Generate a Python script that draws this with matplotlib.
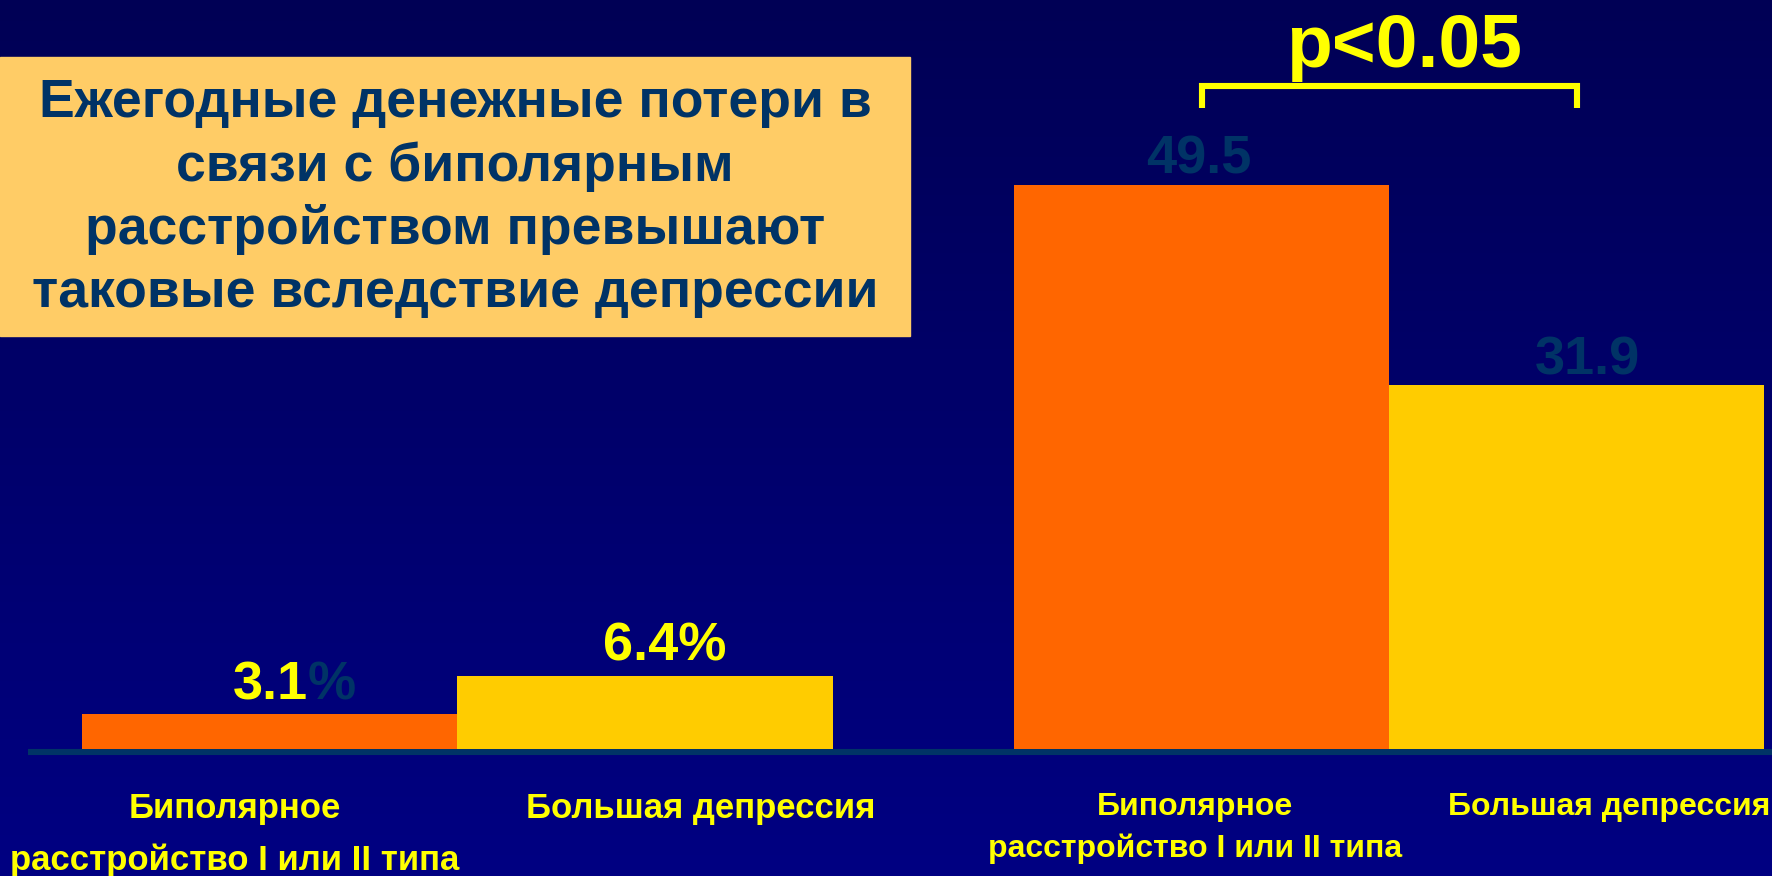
import numpy as np
import matplotlib.pyplot as plt
from matplotlib.colors import LinearSegmentedColormap
from matplotlib.patches import Rectangle
from matplotlib.transforms import IdentityTransform

# данные
categories = ['Биполярное\nрасстройство I или II типа', 'Большая депрессия']
pct_loss = [3.1, 6.4]        # % потерь
usd_loss = [49.5, 31.9]      # денежные потери
bar_colors = ['#FF6600', '#FFCC00']
title_lines = ['Ежегодные денежные потери в',
               'связи с биполярным',
               'расстройством превышают',
               'таковые вследствие депрессии']
p_text = 'p<0.05'

YEL = '#FFFF00'
DARK = '#003366'

W, H = 1772, 876
fig = plt.figure(figsize=(W / 100, H / 100), dpi=100)

# фон с градиентом
bg = fig.add_axes([0, 0, 1, 1], zorder=0)
grad = np.linspace(0, 1, 256).reshape(-1, 1)
cmap = LinearSegmentedColormap.from_list('bg', ['#000055', '#000082'])
bg.imshow(grad, aspect='auto', cmap=cmap, extent=[0, 1, 0, 1], origin='upper')
bg.axis('off')

# масштаб: пиксели картинки -> данные
base_px = 749      # линия оси
ppu = 11.4         # пикселей на единицу
bar_px = 375       # ширина столбца
x0_px = 270        # центр первого столбца

def yv(p):
    return (base_px - p) / ppu

def xv(p):
    return (p - x0_px) / bar_px

ax = fig.add_axes([0, 0, 1, 1], zorder=1)
ax.patch.set_alpha(0)
ax.axis('off')
ax.set_xlim(xv(0), xv(W))
ax.set_ylim(yv(H), yv(0))

x_left = np.array([0.0, 1.0])
x_right = x_left + 2.485

ax.bar(x_left, pct_loss, width=1.0, color=bar_colors, zorder=2)
ax.bar(x_right, usd_loss, width=1.0, color=bar_colors, zorder=2)
ax.hlines(yv(752), xv(28), xv(W), color=DARK, lw=4.4, zorder=1)

num_font = dict(family='Liberation Sans', weight='bold', fontsize=39)

# подписи значений
lbl_left = [f'{v}%' for v in pct_loss]
lbl_right = [f'{v}' for v in usd_loss]
dx_left = [24, 20]
dx_right = [-3, 11]
gap_left = [14, 16]
gap_right = [11, 11]

t31 = ax.annotate(lbl_left[0], (x_left[0] + dx_left[0] / bar_px, pct_loss[0]),
                  xytext=(0, gap_left[0] * 0.72), textcoords='offset points',
                  ha='center', va='baseline', color=DARK, **num_font)
ax.annotate(lbl_left[1], (x_left[1] + dx_left[1] / bar_px, pct_loss[1]),
            xytext=(0, gap_left[1] * 0.72), textcoords='offset points',
            ha='center', va='baseline', color=YEL, **num_font)
for i in range(2):
    ax.annotate(lbl_right[i], (x_right[i] + dx_right[i] / bar_px, usd_loss[i]),
                xytext=(0, gap_right[i] * 0.72), textcoords='offset points',
                ha='center', va='baseline', color=DARK, **num_font)

# подписи категорий
left_font = dict(family='Liberation Sans', weight='bold', fontsize=25, color=YEL)
right_font = dict(family='Liberation Sans', weight='bold', fontsize=23, color=YEL)
first, second = categories[0].split('\n')
ax.text(xv(235), yv(818), first, ha='center', va='baseline', **left_font)
ax.text(xv(235), yv(870), second, ha='center', va='baseline', **left_font)
ax.text(xv(701), yv(818), categories[1], ha='center', va='baseline', **left_font)
ax.text(xv(1195), yv(815), first, ha='center', va='baseline', **right_font)
ax.text(xv(1195), yv(857), second, ha='center', va='baseline', **right_font)
ax.text(xv(1609), yv(815), categories[1], ha='center', va='baseline', **right_font)

# скобка и p
ax.plot([x_right[0], x_right[0], x_right[1], x_right[1]],
        [yv(108), yv(86), yv(86), yv(108)], color=YEL, lw=4.4,
        solid_joinstyle='miter', solid_capstyle='butt', zorder=3)
ax.text(xv(1404), yv(67), p_text, ha='center', va='baseline', color=YEL,
        family='Liberation Sans', weight='bold', fontsize=54)

# плашка с заголовком
fig.patches.append(Rectangle((0, 1 - 336 / H), 910 / W, (336 - 57) / H,
                             transform=fig.transFigure, color='#FFCC66', zorder=1))
for i, line in enumerate(title_lines):
    fig.text(455 / W, 1 - (117 + 63.5 * i) / H, line, ha='center', va='baseline',
             color=DARK, family='Liberation Sans', weight='bold', fontsize=38.5, zorder=5)

# "3.1" жёлтым, "%" тёмным
fig.canvas.draw()
bb = t31.get_window_extent()
yy = ax.transData.transform((0, pct_loss[0]))[1] + gap_left[0]
t31.remove()
fig.text(bb.x0, yy, lbl_left[0][:-1], transform=IdentityTransform(),
         ha='left', va='baseline', color=YEL, zorder=5, **num_font)
fig.text(bb.x1, yy, '%', transform=IdentityTransform(),
         ha='right', va='baseline', color=DARK, zorder=5, **num_font)

fig.savefig('out.png', dpi=100)
